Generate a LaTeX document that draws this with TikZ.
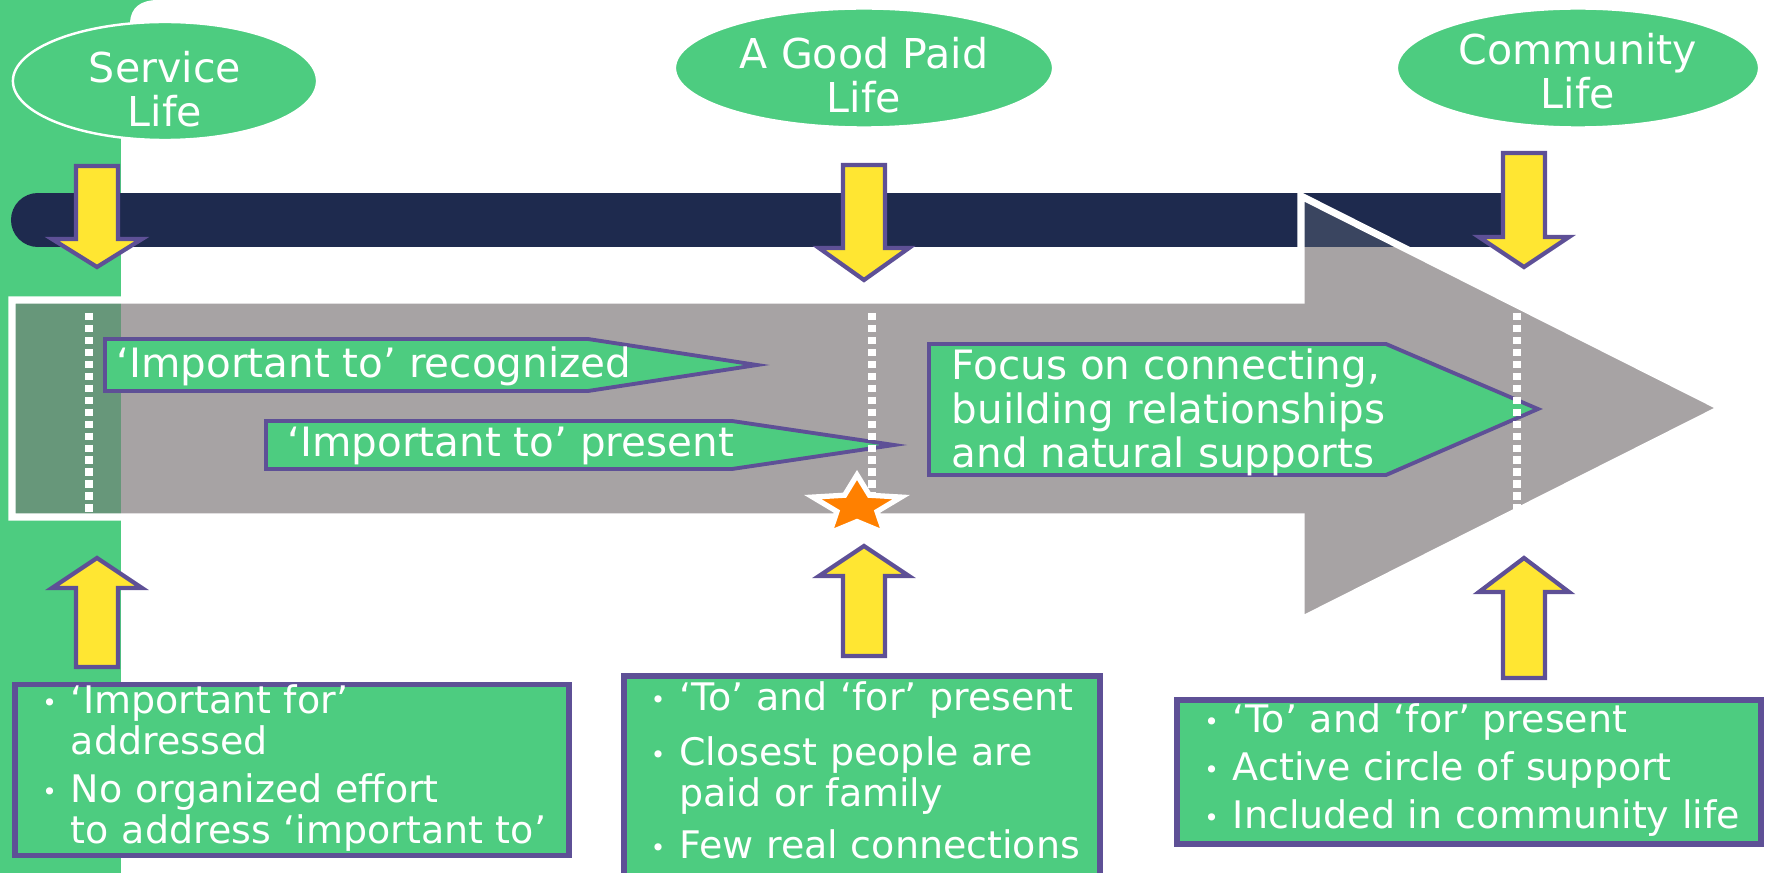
\documentclass[tikz,border=0pt]{standalone}
\usepackage{fontspec}
\setmainfont{DejaVu Sans}
\usepackage{tikz}
\usetikzlibrary{shapes.geometric}
\usepackage{xcolor}
\definecolor{plgreen}{RGB}{77,204,128}
\definecolor{plpurple}{RGB}{94,80,150}
\definecolor{plyellow}{RGB}{255,230,50}
\definecolor{plnavy}{RGB}{30,42,78}
\definecolor{plgray}{RGB}{167,163,164}
\definecolor{plgreenmix}{RGB}{103,151,122}
\definecolor{plnavymix}{RGB}{58,69,96}
\definecolor{plorange}{RGB}{255,128,0}
\tikzstyle{lifeoval} = [ellipse, fill=plgreen, draw=white, line width=0.7pt, inner sep=0pt]
\tikzstyle{lifetext} = [text=white, inner sep=0pt, align=center, font=\fontsize{11.7}{12.5}\selectfont]
\tikzstyle{yarrow} = [fill=plyellow, draw=plpurple, line width=1.2pt, line join=miter]
\tikzstyle{tagshape} = [fill=plgreen, draw=plpurple, line width=1.1pt]
\tikzstyle{tagtext} = [text=white, inner sep=0pt, font=\fontsize{11.5}{12.5}\selectfont]
\tikzstyle{infobox} = [rectangle, fill=plgreen, draw=plpurple, line width=1.7pt, text=white, align=left, inner xsep=0.27cm, inner ysep=0pt, font=\fontsize{10.8}{11.5}\selectfont]
\tikzstyle{gapline} = [white, line width=2.3pt, dash pattern=on 2.1pt off 1.3pt]
\newcommand{\pdot}{\raisebox{0.1ex}{\fontsize{7}{7}\selectfont •}}

\begin{document}
\begin{tikzpicture}[x=0.01cm, y=-0.01cm]
\useasboundingbox (0,0) rectangle (1771,873);
% green side strip
\fill[plgreen] (0,0) rectangle (121,873);
\fill[plgreen] (0,0) rectangle (200,40);
\fill[white] (130,40) -- (130,22) .. controls (131,8) and (140,0) .. (158,0) -- (200,0) -- (200,40) -- cycle;
% time line
\fill[plnavy] (38,193) rectangle (1524,247);
\fill[plnavy] (38,220) circle[radius=0.27cm];
% big arrow
\fill[plgray] (12,300) -- (1301,300) -- (1301,196) -- (1722,408) -- (1301,620) -- (1301,517) -- (12,517) -- cycle;
\fill[plgreenmix] (12,300) rectangle (121,517);
\fill[plnavymix] (1301,196) -- (1301,247) -- (1402,247) -- cycle;
\draw[white, line width=2pt] (12,300) -- (1301,300) -- (1301,196) -- (1722,408) -- (1301,620) -- (1301,517) -- (12,517) -- cycle;
% tags
\draw[tagshape] (105,339) -- (588,339) -- (757,365) -- (588,391) -- (105,391) -- cycle;
\draw[tagshape] (266,421) -- (732,421) -- (894,445) -- (732,469) -- (266,469) -- cycle;
\draw[tagshape] (929,344) -- (1386,344) -- (1538,409) -- (1386,475) -- (929,475) -- cycle;
\node[tagtext, anchor=base west] (imprec) at (116,378) {‘Important to’ recognized};
\node[tagtext, anchor=base west] (imppres) at (287,457) {‘Important to’ present};
\node[tagtext, anchor=west, align=left] (focus) at (951,412) {Focus on connecting,\\building relationships\\and natural supports};
% stage marks
\draw[gapline] (89,313) -- (89,512);
\draw[gapline] (872,313) -- (872,512);
\draw[gapline] (1517,313) -- (1517,512);
\begin{scope}[shift={(857,507)}, xscale=1.45]
\node[star, star points=5, star point ratio=2.2, fill=plorange, draw=white, line width=1.5pt, minimum size=0.64cm, inner sep=0pt, transform shape] (goalstar) at (0,0) {};
\end{scope}
% yellow arrows
\foreach \cx/\ya/\yb/\yc in {97/166/239/267, 864/165/248/280, 1524/153/237/267, 97/667/588/558, 864/656/576/546, 1524/678/592/558}
  \draw[yarrow] (\cx-21,\ya) -- (\cx+21,\ya) -- (\cx+21,\yb) -- (\cx+45,\yb) -- (\cx,\yc) -- (\cx-45,\yb) -- (\cx-21,\yb) -- cycle;
% stages
\node[lifeoval, minimum width=3.04cm, minimum height=1.18cm] (service) at (165,81) {};
\node[lifeoval, minimum width=3.78cm, minimum height=1.19cm] (goodpaid) at (864,68) {};
\node[lifeoval, minimum width=3.62cm, minimum height=1.19cm] (community) at (1578,68) {};
\node[lifetext] (servicetext) at ([yshift=-0.08cm]service.center) {Service\\Life};
\node[lifetext] (goodpaidtext) at ([yshift=-0.07cm]goodpaid.center) {A Good Paid\\Life};
\node[lifetext] (communitytext) at ([yshift=-0.03cm]community.center) {Community\\Life};
% notes
\node[infobox, text width=4.99cm, minimum height=1.64cm] (noteservice) at (292,770) {\noindent\begin{tabular}{@{}l@{\hspace{4pt}}l@{}}
\pdot & ‘Important for’\\
 & addressed\\[2pt]
\pdot & No organized effort\\
 & to address ‘important to’
\end{tabular}};
\node[infobox, text width=4.22cm, minimum height=2.00cm] (notepaid) at (862,776) {\noindent\begin{tabular}{@{}l@{\hspace{4pt}}l@{}}
\pdot & ‘To’ and ‘for’ present\\[4pt]
\pdot & Closest people are\\
 & paid or family\\[3pt]
\pdot & Few real connections
\end{tabular}};
\node[infobox, text width=5.29cm, minimum height=1.44cm] (notecommunity) at (1469,772) {\noindent\begin{tabular}{@{}l@{\hspace{4pt}}l@{}}
\pdot & ‘To’ and ‘for’ present\\[2pt]
\pdot & Active circle of support\\[2pt]
\pdot & Included in community life
\end{tabular}};
\end{tikzpicture}
\end{document}
